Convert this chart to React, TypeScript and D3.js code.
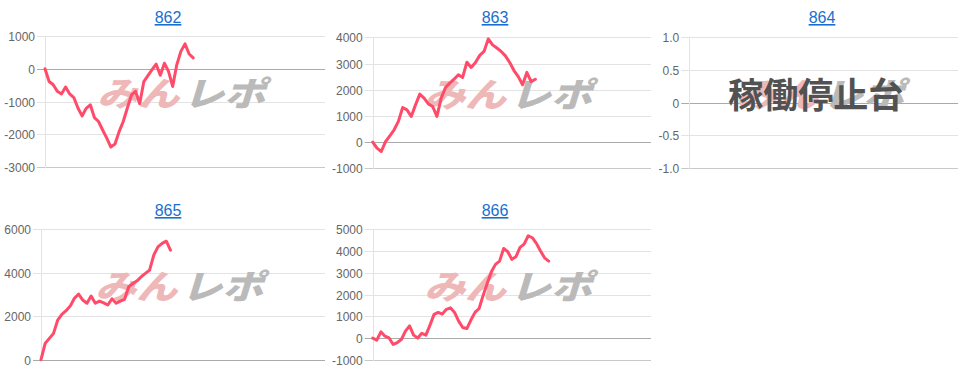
import React from "react";
import * as d3 from "d3";

// ---- data ----
const machineIds = ["862", "863", "864", "865", "866"];

const values862 = [0, -390, -490, -690, -770, -560, -770, -880, -1200, -1440, -1210, -1100, -1490, -1610, -1870, -2120, -2390, -2300, -1920, -1610, -1200, -800, -690, -1070, -390, -210, -30, 140, -200, 170, -80, -540, 120, 530, 760, 450, 330];
const values863 = [0, -230, -360, 20, 240, 470, 790, 1320, 1230, 980, 1420, 1830, 1680, 1460, 1360, 980, 1680, 2080, 2250, 2400, 2570, 2470, 3050, 2850, 3040, 3310, 3460, 3940, 3710, 3590, 3460, 3290, 3040, 2730, 2500, 2190, 2660, 2310, 2400];
const values864: number[] = [];
const values865 = [0, 750, 980, 1210, 1820, 2080, 2250, 2460, 2820, 3010, 2740, 2590, 2920, 2590, 2690, 2610, 2510, 2800, 2590, 2690, 2770, 3350, 3500, 3620, 3810, 3960, 4110, 4800, 5180, 5340, 5440, 5030];
const values866 = [0, -90, 290, 90, 10, -290, -200, -60, 320, 560, 140, 10, 220, 140, 600, 1090, 1180, 1100, 1320, 1390, 1180, 780, 490, 440, 830, 1180, 1360, 1970, 2510, 3040, 3380, 3530, 4110, 3960, 3610, 3730, 4160, 4310, 4690, 4600, 4340, 3990, 3680, 3530];

const ticks862 = [1000, 0, -1000, -2000, -3000];
const ticks863 = [4000, 3000, 2000, 1000, 0, -1000];
const ticks864 = [1.0, 0.5, 0, -0.5, -1.0];
const ticks865 = [6000, 4000, 2000, 0];
const ticks866 = [5000, 4000, 3000, 2000, 1000, 0, -1000];

const tickLabels864 = ["1.0", "0.5", "0", "-0.5", "-1.0"];

// number of x slots (labels) on each chart's category axis
const xSlots = [68, 65, 68, 68, 68];

const stoppedLabel = "稼働停止台";
const watermarkA = "みん";
const watermarkB = "レポ";

// ---- layout (positions kept out of data) ----
type Layout = { left: number; right: number; top: number; bottom: number; titleX: number; titleY: number };
const layouts: Layout[] = [
  { left: 45, right: 325, top: 36, bottom: 167, titleX: 168, titleY: 23 },
  { left: 372.7, right: 651, top: 37.3, bottom: 168.3, titleX: 495, titleY: 23 },
  { left: 689.3, right: 958, top: 36.7, bottom: 168.3, titleX: 822, titleY: 23 },
  { left: 41, right: 325, top: 229, bottom: 359.7, titleX: 168, titleY: 216 },
  { left: 372.7, right: 651, top: 229, bottom: 360, titleX: 495, titleY: 216 },
];

const seriesList = [values862, values863, values864, values865, values866];
const tickList = [ticks862, ticks863, ticks864, ticks865, ticks866];

const LINE = "#ff4b69";
const FONT = "'Liberation Sans', Arial, Helvetica, sans-serif";

function Panel({ idx }: { idx: number }) {
  const L = layouts[idx];
  const values = seriesList[idx];
  const ticks = tickList[idx];
  const yMin = d3.min(ticks) as number;
  const yMax = d3.max(ticks) as number;
  const x = d3.scaleLinear().domain([0, xSlots[idx]]).range([L.left, L.right]);
  const y = d3.scaleLinear().domain([yMin, yMax]).range([L.bottom, L.top]);
  const line = d3
    .line<number>()
    .x((_, i) => x(i))
    .y((d) => y(d));
  const cx = (L.left + L.right) / 2;
  const cy = (L.top + L.bottom) / 2 - 8;
  const stopped = values.length === 0;
  return (
    <g>
      <text
        x={L.titleX}
        y={L.titleY}
        textAnchor="middle"
        fontFamily={FONT}
        fontSize={16}
        fill="#1a6fce"
        textDecoration="underline"
      >
        {machineIds[idx]}
      </text>
      {ticks.map((t, i) => {
        const yy = Math.round(y(t)) + 0.5;
        const isZero = t === 0;
        const isBottom = t === yMin;
        return (
          <g key={i}>
            <line
              x1={L.left - 8}
              x2={L.right}
              y1={yy}
              y2={yy}
              stroke={isZero ? "#aaaaaa" : isBottom ? "#c8c8c8" : "#e3e3e3"}
              strokeWidth={1}
            />
            <text
              x={L.left - 10}
              y={yy}
              dy="0.35em"
              textAnchor="end"
              fontFamily={FONT}
              fontSize={12}
              fill="#666"
            >
              {idx === 2 ? tickLabels864[i] : String(t)}
            </text>
          </g>
        );
      })}
      <line
        x1={Math.round(L.left) + 0.5}
        x2={Math.round(L.left) + 0.5}
        y1={L.top}
        y2={L.bottom + 1}
        stroke="#e3e3e3"
      />
      {/* watermark */}
      <g transform={`translate(${cx},${cy}) scale(1,0.82) skewX(-14)`}>
        <text
          x={-2}
          y={15}
          textAnchor="end"
          fontFamily="'Noto Sans CJK JP', sans-serif"
          fontWeight={900}
          fontSize={41}
          fill="#efb8b8"
        >
          {watermarkA}
        </text>
        <text
          x={2}
          y={15}
          textAnchor="start"
          fontFamily="'Noto Sans CJK JP', sans-serif"
          fontWeight={900}
          fontSize={41}
          fill="#bababa"
        >
          {watermarkB}
        </text>
      </g>
      {stopped ? (
        <text
          x={cx - 8}
          y={cy + 13}
          textAnchor="middle"
          fontFamily="'Noto Sans CJK JP', sans-serif"
          fontWeight={700}
          fontSize={35}
          fill="#525252"
        >
          {stoppedLabel}
        </text>
      ) : (
        <path
          d={line(values) || ""}
          fill="none"
          stroke={LINE}
          strokeWidth={3}
          strokeLinejoin="round"
          strokeLinecap="round"
        />
      )}
    </g>
  );
}

export default function App() {
  return (
    <svg
      width={979}
      height={382}
      style={{ position: "absolute", left: 0, top: 0, background: "#fff" }}
    >
      <rect x={0} y={0} width={979} height={382} fill="#fff" />
      {machineIds.map((_, i) => (
        <Panel key={i} idx={i} />
      ))}
    </svg>
  );
}
